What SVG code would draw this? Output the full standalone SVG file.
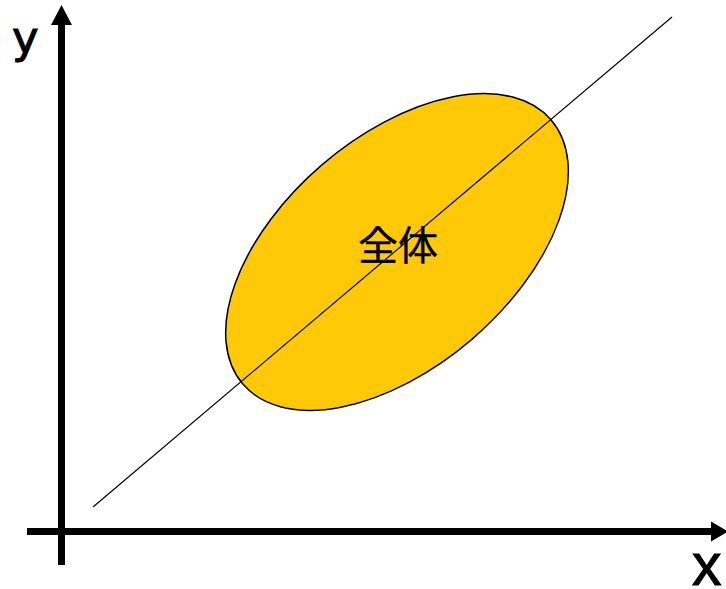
<svg xmlns="http://www.w3.org/2000/svg" width="726" height="589" viewBox="0 0 726 589">
<style>
.axis{stroke:#000;stroke-width:7;fill:none}
.head{fill:#000}
.lbl{fill:#000;stroke:#000;stroke-width:1}
.cjk{font-family:"Noto Sans CJK JP","Noto Sans CJK SC",sans-serif;fill:#000;stroke:#000;stroke-width:0.4}
</style>
<rect width="726" height="589" fill="#fff"/>
<g id="ellipse">
<ellipse cx="397" cy="252" rx="203" ry="115" transform="rotate(-40.6 397 252)" fill="#FFC908" stroke="#000" stroke-width="1.5"/>
</g>
<g id="connectors">
<line x1="93" y1="507" x2="672" y2="17" stroke="#000" stroke-width="1.2"/>
</g>
<g id="y-axis">
<line class="axis" x1="61.5" y1="565" x2="61.5" y2="22"/>
<polygon class="head" points="61.5,5 72,25 51,25"/>
<text class="lbl" x="12" y="53" font-size="45" font-family="'DejaVu Sans',sans-serif">y</text>
</g>
<g id="x-axis">
<line class="axis" x1="27" y1="531.5" x2="714" y2="531.5"/>
<polygon class="head" points="728,531.5 711,521.5 711,541.5"/>
<text class="lbl" x="692" y="585" font-size="59" font-family="'Liberation Sans',Arial,sans-serif">x</text>
</g>
<g id="label">
<text class="cjk" x="398" y="242.5" font-size="40" text-anchor="middle" dominant-baseline="central">全体</text>
</g>
</svg>
